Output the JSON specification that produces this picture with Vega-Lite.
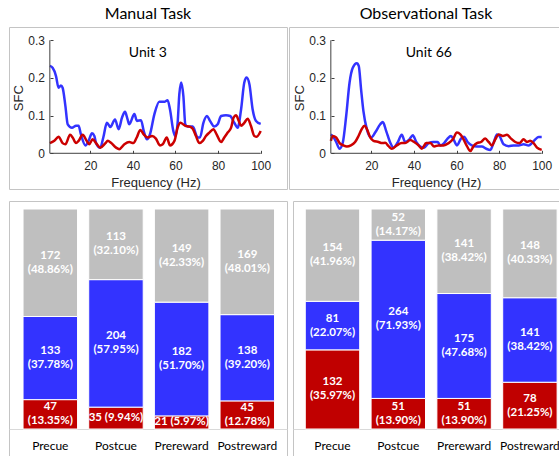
{
  "$schema": "https://vega.github.io/schema/vega-lite/v6.json",
  "padding": {"left": 8, "top": 5, "right": 0, "bottom": 0},
  "background": "white",
  "resolve": {"scale": {"color": "independent"}},
  "config": {
    "view": {"stroke": "#c4c4c4", "strokeWidth": 1},
    "font": "Liberation Sans",
    "title": {"font": "Lato", "fontSize": 16, "fontWeight": "normal", "color": "#000000", "offset": 5, "anchor": "middle"},
    "axis": {"grid": false, "labelColor": "#262626", "titleColor": "#262626", "labelFont": "Liberation Sans", "titleFont": "Liberation Sans", "titleFontWeight": "normal"}
  },
  "datasets": {
    "lines": [
      {"task":"Manual","series":"blue","hz":1,"sfc":0.232},{"task":"Manual","series":"blue","hz":2.3,"sfc":0.227},{"task":"Manual","series":"blue","hz":3.9,"sfc":0.205},{"task":"Manual","series":"blue","hz":5.1,"sfc":0.174},{"task":"Manual","series":"blue","hz":6.2,"sfc":0.18},{"task":"Manual","series":"blue","hz":7,"sfc":0.174},{"task":"Manual","series":"blue","hz":8.3,"sfc":0.126},{"task":"Manual","series":"blue","hz":9.4,"sfc":0.077},{"task":"Manual","series":"blue","hz":11.4,"sfc":0.068},{"task":"Manual","series":"blue","hz":13.3,"sfc":0.073},{"task":"Manual","series":"blue","hz":14.5,"sfc":0.073},{"task":"Manual","series":"blue","hz":15.6,"sfc":0.05},{"task":"Manual","series":"blue","hz":17.7,"sfc":0.021},{"task":"Manual","series":"blue","hz":19.2,"sfc":0.033},{"task":"Manual","series":"blue","hz":20.8,"sfc":0.053},{"task":"Manual","series":"blue","hz":21.9,"sfc":0.046},{"task":"Manual","series":"blue","hz":22.7,"sfc":0.027},{"task":"Manual","series":"blue","hz":24.7,"sfc":0.015},{"task":"Manual","series":"blue","hz":26.1,"sfc":0.042},{"task":"Manual","series":"blue","hz":27.8,"sfc":0.081},{"task":"Manual","series":"blue","hz":29.4,"sfc":0.07},{"task":"Manual","series":"blue","hz":31.6,"sfc":0.09},{"task":"Manual","series":"blue","hz":33.3,"sfc":0.064},{"task":"Manual","series":"blue","hz":34.9,"sfc":0.095},{"task":"Manual","series":"blue","hz":36.3,"sfc":0.11},{"task":"Manual","series":"blue","hz":37.5,"sfc":0.09},{"task":"Manual","series":"blue","hz":38.3,"sfc":0.077},{"task":"Manual","series":"blue","hz":40.7,"sfc":0.104},{"task":"Manual","series":"blue","hz":41.9,"sfc":0.086},{"task":"Manual","series":"blue","hz":43.8,"sfc":0.088},{"task":"Manual","series":"blue","hz":45.1,"sfc":0.059},{"task":"Manual","series":"blue","hz":46.6,"sfc":0.037},{"task":"Manual","series":"blue","hz":48,"sfc":0.05},{"task":"Manual","series":"blue","hz":50.1,"sfc":0.104},{"task":"Manual","series":"blue","hz":52.4,"sfc":0.137},{"task":"Manual","series":"blue","hz":54.8,"sfc":0.137},{"task":"Manual","series":"blue","hz":56.3,"sfc":0.141},{"task":"Manual","series":"blue","hz":57.4,"sfc":0.117},{"task":"Manual","series":"blue","hz":59,"sfc":0.059},{"task":"Manual","series":"blue","hz":59.9,"sfc":0.046},{"task":"Manual","series":"blue","hz":61,"sfc":0.081},{"task":"Manual","series":"blue","hz":61.8,"sfc":0.157},{"task":"Manual","series":"blue","hz":62.7,"sfc":0.188},{"task":"Manual","series":"blue","hz":63.7,"sfc":0.152},{"task":"Manual","series":"blue","hz":64.6,"sfc":0.077},{"task":"Manual","series":"blue","hz":65.7,"sfc":0.071},{"task":"Manual","series":"blue","hz":68.1,"sfc":0.071},{"task":"Manual","series":"blue","hz":70.4,"sfc":0.042},{"task":"Manual","series":"blue","hz":71.5,"sfc":0.042},{"task":"Manual","series":"blue","hz":73.1,"sfc":0.081},{"task":"Manual","series":"blue","hz":74.8,"sfc":0.099},{"task":"Manual","series":"blue","hz":76.2,"sfc":0.086},{"task":"Manual","series":"blue","hz":78.2,"sfc":0.071},{"task":"Manual","series":"blue","hz":79.8,"sfc":0.077},{"task":"Manual","series":"blue","hz":81.4,"sfc":0.099},{"task":"Manual","series":"blue","hz":83.7,"sfc":0.101},{"task":"Manual","series":"blue","hz":85.7,"sfc":0.099},{"task":"Manual","series":"blue","hz":87.6,"sfc":0.081},{"task":"Manual","series":"blue","hz":89.2,"sfc":0.068},{"task":"Manual","series":"blue","hz":90.8,"sfc":0.117},{"task":"Manual","series":"blue","hz":92.3,"sfc":0.188},{"task":"Manual","series":"blue","hz":93.4,"sfc":0.201},{"task":"Manual","series":"blue","hz":94.7,"sfc":0.183},{"task":"Manual","series":"blue","hz":96.2,"sfc":0.117},{"task":"Manual","series":"blue","hz":97.8,"sfc":0.086},{"task":"Manual","series":"blue","hz":100,"sfc":0.078},
      {"task":"Manual","series":"red","hz":1,"sfc":0.027},{"task":"Manual","series":"red","hz":3.1,"sfc":0.033},{"task":"Manual","series":"red","hz":5.1,"sfc":0.044},{"task":"Manual","series":"red","hz":7,"sfc":0.027},{"task":"Manual","series":"red","hz":8.3,"sfc":0.024},{"task":"Manual","series":"red","hz":10.5,"sfc":0.049},{"task":"Manual","series":"red","hz":11.7,"sfc":0.042},{"task":"Manual","series":"red","hz":13.3,"sfc":0.027},{"task":"Manual","series":"red","hz":14.5,"sfc":0.033},{"task":"Manual","series":"red","hz":16.4,"sfc":0.049},{"task":"Manual","series":"red","hz":18.3,"sfc":0.033},{"task":"Manual","series":"red","hz":19.5,"sfc":0.024},{"task":"Manual","series":"red","hz":21.1,"sfc":0.037},{"task":"Manual","series":"red","hz":22.7,"sfc":0.027},{"task":"Manual","series":"red","hz":24.7,"sfc":0.015},{"task":"Manual","series":"red","hz":27.1,"sfc":0.027},{"task":"Manual","series":"red","hz":28.2,"sfc":0.033},{"task":"Manual","series":"red","hz":29.7,"sfc":0.028},{"task":"Manual","series":"red","hz":32.1,"sfc":0.015},{"task":"Manual","series":"red","hz":33.6,"sfc":0.011},{"task":"Manual","series":"red","hz":36,"sfc":0.024},{"task":"Manual","series":"red","hz":38.3,"sfc":0.03},{"task":"Manual","series":"red","hz":40.2,"sfc":0.027},{"task":"Manual","series":"red","hz":41.8,"sfc":0.042},{"task":"Manual","series":"red","hz":43.5,"sfc":0.062},{"task":"Manual","series":"red","hz":45.1,"sfc":0.05},{"task":"Manual","series":"red","hz":47,"sfc":0.042},{"task":"Manual","series":"red","hz":49,"sfc":0.046},{"task":"Manual","series":"red","hz":50.8,"sfc":0.039},{"task":"Manual","series":"red","hz":52.7,"sfc":0.021},{"task":"Manual","series":"red","hz":54,"sfc":0.024},{"task":"Manual","series":"red","hz":55.9,"sfc":0.042},{"task":"Manual","series":"red","hz":57.4,"sfc":0.021},{"task":"Manual","series":"red","hz":59.5,"sfc":0.033},{"task":"Manual","series":"red","hz":61,"sfc":0.068},{"task":"Manual","series":"red","hz":62.3,"sfc":0.081},{"task":"Manual","series":"red","hz":64.6,"sfc":0.073},{"task":"Manual","series":"red","hz":66.5,"sfc":0.071},{"task":"Manual","series":"red","hz":68.1,"sfc":0.065},{"task":"Manual","series":"red","hz":69.6,"sfc":0.046},{"task":"Manual","series":"red","hz":71.2,"sfc":0.027},{"task":"Manual","series":"red","hz":72.8,"sfc":0.033},{"task":"Manual","series":"red","hz":74.3,"sfc":0.046},{"task":"Manual","series":"red","hz":75.9,"sfc":0.055},{"task":"Manual","series":"red","hz":77.8,"sfc":0.064},{"task":"Manual","series":"red","hz":79.3,"sfc":0.05},{"task":"Manual","series":"red","hz":81.4,"sfc":0.03},{"task":"Manual","series":"red","hz":82.9,"sfc":0.042},{"task":"Manual","series":"red","hz":84.5,"sfc":0.055},{"task":"Manual","series":"red","hz":86.1,"sfc":0.068},{"task":"Manual","series":"red","hz":87.3,"sfc":0.095},{"task":"Manual","series":"red","hz":88.4,"sfc":0.101},{"task":"Manual","series":"red","hz":89.7,"sfc":0.086},{"task":"Manual","series":"red","hz":90.8,"sfc":0.073},{"task":"Manual","series":"red","hz":92.3,"sfc":0.081},{"task":"Manual","series":"red","hz":93.9,"sfc":0.092},{"task":"Manual","series":"red","hz":95.4,"sfc":0.073},{"task":"Manual","series":"red","hz":97,"sfc":0.046},{"task":"Manual","series":"red","hz":98.1,"sfc":0.044},{"task":"Manual","series":"red","hz":100,"sfc":0.059},
      {"task":"Obs","series":"blue","hz":1,"sfc":0.05},{"task":"Obs","series":"blue","hz":1.9,"sfc":0.046},{"task":"Obs","series":"blue","hz":3.5,"sfc":0.03},{"task":"Obs","series":"blue","hz":5.1,"sfc":0.012},{"task":"Obs","series":"blue","hz":6.6,"sfc":0.028},{"task":"Obs","series":"blue","hz":8.2,"sfc":0.099},{"task":"Obs","series":"blue","hz":9.8,"sfc":0.188},{"task":"Obs","series":"blue","hz":11.3,"sfc":0.227},{"task":"Obs","series":"blue","hz":13.2,"sfc":0.239},{"task":"Obs","series":"blue","hz":14.1,"sfc":0.232},{"task":"Obs","series":"blue","hz":15.2,"sfc":0.17},{"task":"Obs","series":"blue","hz":16.3,"sfc":0.112},{"task":"Obs","series":"blue","hz":17.9,"sfc":0.064},{"task":"Obs","series":"blue","hz":19.9,"sfc":0.042},{"task":"Obs","series":"blue","hz":21.8,"sfc":0.055},{"task":"Obs","series":"blue","hz":24.2,"sfc":0.077},{"task":"Obs","series":"blue","hz":25.4,"sfc":0.083},{"task":"Obs","series":"blue","hz":27,"sfc":0.059},{"task":"Obs","series":"blue","hz":28.9,"sfc":0.028},{"task":"Obs","series":"blue","hz":30.4,"sfc":0.015},{"task":"Obs","series":"blue","hz":32.3,"sfc":0.028},{"task":"Obs","series":"blue","hz":34.3,"sfc":0.049},{"task":"Obs","series":"blue","hz":35.9,"sfc":0.03},{"task":"Obs","series":"blue","hz":37.9,"sfc":0.037},{"task":"Obs","series":"blue","hz":39.5,"sfc":0.048},{"task":"Obs","series":"blue","hz":41.1,"sfc":0.03},{"task":"Obs","series":"blue","hz":43,"sfc":0.018},{"task":"Obs","series":"blue","hz":44.8,"sfc":0.015},{"task":"Obs","series":"blue","hz":46.9,"sfc":0.027},{"task":"Obs","series":"blue","hz":49.2,"sfc":0.03},{"task":"Obs","series":"blue","hz":51.1,"sfc":0.03},{"task":"Obs","series":"blue","hz":52.4,"sfc":0.021},{"task":"Obs","series":"blue","hz":54.2,"sfc":0.027},{"task":"Obs","series":"blue","hz":55.8,"sfc":0.039},{"task":"Obs","series":"blue","hz":57.4,"sfc":0.046},{"task":"Obs","series":"blue","hz":58.6,"sfc":0.037},{"task":"Obs","series":"blue","hz":60.2,"sfc":0.021},{"task":"Obs","series":"blue","hz":62.1,"sfc":0.039},{"task":"Obs","series":"blue","hz":63.6,"sfc":0.044},{"task":"Obs","series":"blue","hz":65.2,"sfc":0.03},{"task":"Obs","series":"blue","hz":67.2,"sfc":0.021},{"task":"Obs","series":"blue","hz":69.6,"sfc":0.018},{"task":"Obs","series":"blue","hz":71.9,"sfc":0.018},{"task":"Obs","series":"blue","hz":74,"sfc":0.012},{"task":"Obs","series":"blue","hz":75.9,"sfc":0.009},{"task":"Obs","series":"blue","hz":77.4,"sfc":0.028},{"task":"Obs","series":"blue","hz":79,"sfc":0.05},{"task":"Obs","series":"blue","hz":80.2,"sfc":0.046},{"task":"Obs","series":"blue","hz":82.1,"sfc":0.024},{"task":"Obs","series":"blue","hz":84.5,"sfc":0.019},{"task":"Obs","series":"blue","hz":86.8,"sfc":0.021},{"task":"Obs","series":"blue","hz":89.2,"sfc":0.021},{"task":"Obs","series":"blue","hz":91.5,"sfc":0.024},{"task":"Obs","series":"blue","hz":93.9,"sfc":0.021},{"task":"Obs","series":"blue","hz":95.4,"sfc":0.027},{"task":"Obs","series":"blue","hz":97,"sfc":0.037},{"task":"Obs","series":"blue","hz":98.6,"sfc":0.043},{"task":"Obs","series":"blue","hz":100,"sfc":0.043},
      {"task":"Obs","series":"red","hz":1,"sfc":0.033},{"task":"Obs","series":"red","hz":1.9,"sfc":0.046},{"task":"Obs","series":"red","hz":3.5,"sfc":0.042},{"task":"Obs","series":"red","hz":5.1,"sfc":0.027},{"task":"Obs","series":"red","hz":6.9,"sfc":0.021},{"task":"Obs","series":"red","hz":8.5,"sfc":0.018},{"task":"Obs","series":"red","hz":10.4,"sfc":0.021},{"task":"Obs","series":"red","hz":12.4,"sfc":0.03},{"task":"Obs","series":"red","hz":14,"sfc":0.046},{"task":"Obs","series":"red","hz":15.5,"sfc":0.064},{"task":"Obs","series":"red","hz":16.8,"sfc":0.073},{"task":"Obs","series":"red","hz":17.9,"sfc":0.065},{"task":"Obs","series":"red","hz":19.5,"sfc":0.042},{"task":"Obs","series":"red","hz":21,"sfc":0.033},{"task":"Obs","series":"red","hz":23.4,"sfc":0.03},{"task":"Obs","series":"red","hz":25,"sfc":0.027},{"task":"Obs","series":"red","hz":26.5,"sfc":0.028},{"task":"Obs","series":"red","hz":28.1,"sfc":0.019},{"task":"Obs","series":"red","hz":29.6,"sfc":0.012},{"task":"Obs","series":"red","hz":32,"sfc":0.021},{"task":"Obs","series":"red","hz":34.3,"sfc":0.027},{"task":"Obs","series":"red","hz":35.9,"sfc":0.027},{"task":"Obs","series":"red","hz":38.3,"sfc":0.035},{"task":"Obs","series":"red","hz":40.1,"sfc":0.03},{"task":"Obs","series":"red","hz":42.2,"sfc":0.021},{"task":"Obs","series":"red","hz":43.7,"sfc":0.012},{"task":"Obs","series":"red","hz":45.8,"sfc":0.027},{"task":"Obs","series":"red","hz":47.7,"sfc":0.027},{"task":"Obs","series":"red","hz":49.5,"sfc":0.018},{"task":"Obs","series":"red","hz":51.6,"sfc":0.021},{"task":"Obs","series":"red","hz":53.9,"sfc":0.021},{"task":"Obs","series":"red","hz":56.3,"sfc":0.027},{"task":"Obs","series":"red","hz":58.3,"sfc":0.037},{"task":"Obs","series":"red","hz":60.2,"sfc":0.055},{"task":"Obs","series":"red","hz":61.8,"sfc":0.05},{"task":"Obs","series":"red","hz":63.3,"sfc":0.037},{"task":"Obs","series":"red","hz":64.9,"sfc":0.019},{"task":"Obs","series":"red","hz":66.5,"sfc":0.006},{"task":"Obs","series":"red","hz":68,"sfc":0.019},{"task":"Obs","series":"red","hz":69.6,"sfc":0.027},{"task":"Obs","series":"red","hz":71.5,"sfc":0.03},{"task":"Obs","series":"red","hz":73.5,"sfc":0.039},{"task":"Obs","series":"red","hz":75.1,"sfc":0.03},{"task":"Obs","series":"red","hz":76.6,"sfc":0.021},{"task":"Obs","series":"red","hz":78.2,"sfc":0.037},{"task":"Obs","series":"red","hz":79.8,"sfc":0.05},{"task":"Obs","series":"red","hz":81.8,"sfc":0.046},{"task":"Obs","series":"red","hz":83.7,"sfc":0.049},{"task":"Obs","series":"red","hz":85.6,"sfc":0.039},{"task":"Obs","series":"red","hz":87.6,"sfc":0.03},{"task":"Obs","series":"red","hz":89.6,"sfc":0.027},{"task":"Obs","series":"red","hz":91.5,"sfc":0.037},{"task":"Obs","series":"red","hz":93.1,"sfc":0.03},{"task":"Obs","series":"red","hz":94.6,"sfc":0.033},{"task":"Obs","series":"red","hz":96.2,"sfc":0.027},{"task":"Obs","series":"red","hz":97.8,"sfc":0.015},{"task":"Obs","series":"red","hz":100,"sfc":0.009}
    ],
    "bars": [
      {"task":"Manual","cond":"Precue","seg":"red","ord":1,"n":47,"label":"47\n(13.35%)"},
      {"task":"Manual","cond":"Precue","seg":"blue","ord":2,"n":133,"label":"133\n(37.78%)"},
      {"task":"Manual","cond":"Precue","seg":"gray","ord":3,"n":172,"label":"172\n(48.86%)"},
      {"task":"Manual","cond":"Postcue","seg":"red","ord":1,"n":35,"label":"35 (9.94%)"},
      {"task":"Manual","cond":"Postcue","seg":"blue","ord":2,"n":204,"label":"204\n(57.95%)"},
      {"task":"Manual","cond":"Postcue","seg":"gray","ord":3,"n":113,"label":"113\n(32.10%)"},
      {"task":"Manual","cond":"Prereward","seg":"red","ord":1,"n":21,"label":"21 (5.97%)"},
      {"task":"Manual","cond":"Prereward","seg":"blue","ord":2,"n":182,"label":"182\n(51.70%)"},
      {"task":"Manual","cond":"Prereward","seg":"gray","ord":3,"n":149,"label":"149\n(42.33%)"},
      {"task":"Manual","cond":"Postreward","seg":"red","ord":1,"n":45,"label":"45\n(12.78%)"},
      {"task":"Manual","cond":"Postreward","seg":"blue","ord":2,"n":138,"label":"138\n(39.20%)"},
      {"task":"Manual","cond":"Postreward","seg":"gray","ord":3,"n":169,"label":"169\n(48.01%)"},
      {"task":"Obs","cond":"Precue","seg":"red","ord":1,"n":132,"label":"132\n(35.97%)"},
      {"task":"Obs","cond":"Precue","seg":"blue","ord":2,"n":81,"label":"81\n(22.07%)"},
      {"task":"Obs","cond":"Precue","seg":"gray","ord":3,"n":154,"label":"154\n(41.96%)"},
      {"task":"Obs","cond":"Postcue","seg":"red","ord":1,"n":51,"label":"51\n(13.90%)"},
      {"task":"Obs","cond":"Postcue","seg":"blue","ord":2,"n":264,"label":"264\n(71.93%)"},
      {"task":"Obs","cond":"Postcue","seg":"gray","ord":3,"n":52,"label":"52\n(14.17%)"},
      {"task":"Obs","cond":"Prereward","seg":"red","ord":1,"n":51,"label":"51\n(13.90%)"},
      {"task":"Obs","cond":"Prereward","seg":"blue","ord":2,"n":175,"label":"175\n(47.68%)"},
      {"task":"Obs","cond":"Prereward","seg":"gray","ord":3,"n":141,"label":"141\n(38.42%)"},
      {"task":"Obs","cond":"Postreward","seg":"red","ord":1,"n":78,"label":"78\n(21.25%)"},
      {"task":"Obs","cond":"Postreward","seg":"blue","ord":2,"n":141,"label":"141\n(38.42%)"},
      {"task":"Obs","cond":"Postreward","seg":"gray","ord":3,"n":148,"label":"148\n(40.33%)"}
    ]
  },
  "vconcat": [
    {
      "spacing": 0,
      "hconcat": [
        {
          "width": 278, "height": 162,
          "title": {"text": "Manual Task"},
          "layer": [
            {
              "data": {"name": "lines"},
              "transform": [{"filter": "datum.task === 'Manual'"}],
              "mark": {"type": "line", "interpolate": "monotone", "strokeWidth": 2.5},
              "encoding": {
                "x": {"field": "hz", "type": "quantitative", "scale": {"domain": [-18.17, 112.35], "nice": false, "zero": false},
                  "axis": {"title": "Frequency (Hz)", "values": [20, 40, 60, 80, 100], "offset": -38.7, "domain": false, "ticks": true, "tickSize": 3, "tickColor": "#404040", "labelPadding": 7, "labelFontSize": 12, "titleFontSize": 13, "titleX": 146.5, "titleY": 32.4, "titleBaseline": "middle"}},
                "y": {"field": "sfc", "type": "quantitative", "scale": {"domain": [-0.0948, 0.3353], "nice": false, "zero": false},
                  "axis": {"title": "SFC", "values": [0, 0.1, 0.2, 0.3], "format": ".1~f", "offset": -44, "domain": false, "ticks": true, "tickSize": 3, "tickColor": "#404040", "labelPadding": 5.5, "labelFontSize": 12, "titleFontSize": 13, "titleX": -35, "titleY": 70.7, "titleBaseline": "middle"}},
                "color": {"field": "series", "type": "nominal", "scale": {"domain": ["blue", "red"], "range": ["#3333ff", "#cc0000"]}, "legend": null}
              }
            },
            {"data": {"values": [{}]}, "mark": {"type": "rule", "color": "#404040", "strokeWidth": 1}, "encoding": {"x": {"datum": 1}, "x2": {"datum": 100}, "y": {"datum": 0}}},
            {"data": {"values": [{}]}, "mark": {"type": "rule", "color": "#404040", "strokeWidth": 1}, "encoding": {"x": {"datum": 1}, "y": {"datum": 0}, "y2": {"datum": 0.3}}},
            {"data": {"values": [{}]}, "mark": {"type": "text", "font": "Lato", "fontSize": 14, "color": "#000000", "baseline": "middle"}, "encoding": {"x": {"datum": 47}, "y": {"datum": 0.267}, "text": {"value": "Unit 3"}}}
          ]
        },
        {
          "width": 274, "height": 162,
          "title": {"text": "Observational Task"},
          "layer": [
            {
              "data": {"name": "lines"},
              "transform": [{"filter": "datum.task === 'Obs'"}],
              "mark": {"type": "line", "interpolate": "monotone", "strokeWidth": 2.5},
              "encoding": {
                "x": {"field": "hz", "type": "quantitative", "scale": {"domain": [-18.64, 110.0], "nice": false, "zero": false},
                  "axis": {"title": "Frequency (Hz)", "values": [20, 40, 60, 80, 100], "offset": -38.7, "domain": false, "ticks": true, "tickSize": 3, "tickColor": "#404040", "labelPadding": 7, "labelFontSize": 12, "titleFontSize": 13, "titleX": 147, "titleY": 32.4, "titleBaseline": "middle"}},
                "y": {"field": "sfc", "type": "quantitative", "scale": {"domain": [-0.0948, 0.3353], "nice": false, "zero": false},
                  "axis": {"title": "SFC", "values": [0, 0.1, 0.2, 0.3], "format": ".1~f", "offset": -45, "domain": false, "ticks": true, "tickSize": 3, "tickColor": "#404040", "labelPadding": 5.5, "labelFontSize": 12, "titleFontSize": 13, "titleX": -35, "titleY": 70.7, "titleBaseline": "middle"}},
                "color": {"field": "series", "type": "nominal", "scale": {"domain": ["blue", "red"], "range": ["#3333ff", "#cc0000"]}, "legend": null}
              }
            },
            {"data": {"values": [{}]}, "mark": {"type": "rule", "color": "#404040", "strokeWidth": 1}, "encoding": {"x": {"datum": 1}, "x2": {"datum": 100}, "y": {"datum": 0}}},
            {"data": {"values": [{}]}, "mark": {"type": "rule", "color": "#404040", "strokeWidth": 1}, "encoding": {"x": {"datum": 1}, "y": {"datum": 0}, "y2": {"datum": 0.3}}},
            {"data": {"values": [{}]}, "mark": {"type": "text", "font": "Lato", "fontSize": 14, "color": "#000000", "baseline": "middle"}, "encoding": {"x": {"datum": 47}, "y": {"datum": 0.267}, "text": {"value": "Unit 66"}}}
          ]
        }
      ]
    },
    {
      "spacing": 4,
      "hconcat": [
        {
          "width": 278, "height": 260,
          "data": {"name": "bars"},
          "transform": [
            {"filter": "datum.task === 'Manual'"},
            {"stack": "n", "groupby": ["cond"], "sort": [{"field": "ord"}], "as": ["y0", "y1"]},
            {"calculate": "(datum.y0 + datum.y1) / 2", "as": "mid"}
          ],
          "encoding": {
            "x": {"field": "cond", "type": "nominal", "sort": ["Precue", "Postcue", "Prereward", "Postreward"],
              "scale": {"paddingInner": 0.17, "paddingOuter": 0.2018, "align": 0.53},
              "axis": {"title": null, "offset": -32, "labelAngle": 0, "domainColor": "#d9d9d9", "ticks": false, "labelPadding": 11, "labelFont": "Lato", "labelFontSize": 12, "labelColor": "#000000"}}
          },
          "layer": [
            {"mark": {"type": "bar", "stroke": "#ffffff", "strokeWidth": 1},
              "encoding": {
                "y": {"field": "y0", "type": "quantitative", "scale": {"domain": [-51.2, 364.8], "nice": false, "zero": false}, "axis": null},
                "y2": {"field": "y1"},
                "color": {"field": "seg", "type": "nominal", "scale": {"domain": ["red", "blue", "gray"], "range": ["#c00000", "#3333ff", "#bfbfbf"]}, "legend": null}
              }},
            {"transform": [{"filter": "test(/\\n/, datum.label)"}],
              "mark": {"type": "text", "color": "#ffffff", "font": "Lato", "fontWeight": "bold", "fontSize": 11.5, "lineBreak": "\n", "lineHeight": 14, "baseline": "middle", "dy": -7},
              "encoding": {"y": {"field": "mid", "type": "quantitative", "axis": null}, "text": {"field": "label"}}},
            {"transform": [{"filter": "!test(/\\n/, datum.label)"}],
              "mark": {"type": "text", "color": "#ffffff", "font": "Lato", "fontWeight": "bold", "fontSize": 11.5, "baseline": "middle"},
              "encoding": {"y": {"field": "mid", "type": "quantitative", "axis": null}, "text": {"field": "label"}}}
          ]
        },
        {
          "width": 270, "height": 260,
          "data": {"name": "bars"},
          "transform": [
            {"filter": "datum.task === 'Obs'"},
            {"stack": "n", "groupby": ["cond"], "sort": [{"field": "ord"}], "as": ["y0", "y1"]},
            {"calculate": "(datum.y0 + datum.y1) / 2", "as": "mid"}
          ],
          "encoding": {
            "x": {"field": "cond", "type": "nominal", "sort": ["Precue", "Postcue", "Prereward", "Postreward"],
              "scale": {"paddingInner": 0.173, "paddingOuter": 0.138, "align": 0.676},
              "axis": {"title": null, "offset": -32, "labelAngle": 0, "domainColor": "#d9d9d9", "ticks": false, "labelPadding": 11, "labelFont": "Lato", "labelFontSize": 12, "labelColor": "#000000"}}
          },
          "layer": [
            {"mark": {"type": "bar", "stroke": "#ffffff", "strokeWidth": 1},
              "encoding": {
                "y": {"field": "y0", "type": "quantitative", "scale": {"domain": [-53.38, 380.35], "nice": false, "zero": false}, "axis": null},
                "y2": {"field": "y1"},
                "color": {"field": "seg", "type": "nominal", "scale": {"domain": ["red", "blue", "gray"], "range": ["#c00000", "#3333ff", "#bfbfbf"]}, "legend": null}
              }},
            {"transform": [{"filter": "test(/\\n/, datum.label)"}],
              "mark": {"type": "text", "color": "#ffffff", "font": "Lato", "fontWeight": "bold", "fontSize": 11.5, "lineBreak": "\n", "lineHeight": 14, "baseline": "middle", "dy": -7},
              "encoding": {"y": {"field": "mid", "type": "quantitative", "axis": null}, "text": {"field": "label"}}},
            {"transform": [{"filter": "!test(/\\n/, datum.label)"}],
              "mark": {"type": "text", "color": "#ffffff", "font": "Lato", "fontWeight": "bold", "fontSize": 11.5, "baseline": "middle"},
              "encoding": {"y": {"field": "mid", "type": "quantitative", "axis": null}, "text": {"field": "label"}}}
          ]
        }
      ]
    }
  ],
  "spacing": 9
}
